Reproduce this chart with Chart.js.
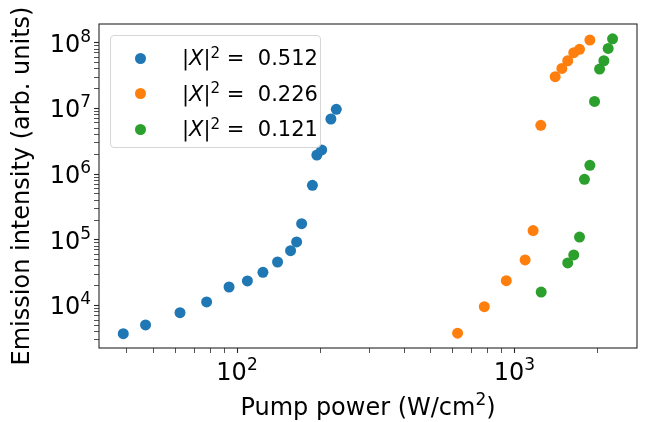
<!DOCTYPE html>
<html>
<head>
<meta charset="utf-8">
<script src="https://cdn.jsdelivr.net/npm/chart.js@4"></script>
<style>
  html, body { margin: 0; padding: 0; background: #fff; }
  #wrap { position: relative; width: 646px; height: 422px; }
  #legend {
    position: absolute; left: 110px; top: 35px; width: 211px; height: 113px;
    box-sizing: border-box; border: 1px solid #d6d6d6; border-radius: 4px;
    background: rgba(255,255,255,0.8);
    font-family: "DejaVu Sans"; font-size: 21px; color: #000;
  }
  .row { position: absolute; left: 0; height: 30px; line-height: 30px; white-space: nowrap; }
  .dot { position: absolute; left: 24px; top: 9.5px; width: 11px; height: 11px; border-radius: 50%; }
  .txt { position: absolute; left: 71px; top: 0; }
  .txt sup { font-size: 72%; vertical-align: 0; position: relative; top: -0.48em; }
</style>
</head>
<body>
<div id="wrap">
  <canvas id="chart" width="646" height="422"></canvas>
  <div id="legend"></div>
</div>
<script>
const seriesNames = ["0.512", "0.226", "0.121"];
const seriesColors = ["#1f77b4", "#ff7f0e", "#2ca02c"];

const powerBlue = [38.9, 46.8, 62.3, 77.7, 93.6, 109, 124, 140, 156, 164, 171, 187, 194, 202, 218, 228];
const intensityBlue = [3720, 5050, 7770, 11300, 19100, 23600, 32000, 45900, 68300, 92600, 176000, 676000, 1.95e6, 2.33e6, 6.9e6, 9.7e6];

const powerOrange = [624, 779, 935, 1093, 1168, 1245, 1403, 1483, 1557, 1637, 1717, 1871];
const intensityOrange = [3780, 9590, 23800, 49300, 138000, 5.53e6, 3.04e7, 4.07e7, 5.32e7, 7.05e7, 7.94e7, 1.1e8];

const powerGreen = [1249, 1557, 1637, 1717, 1789, 1871, 1945, 2028, 2102, 2178, 2259];
const intensityGreen = [16000, 44400, 58700, 110000, 834000, 1.36e6, 1.28e7, 3.98e7, 5.32e7, 8.2e7, 1.15e8];

const xMajor = [100, 1000];
const xExp = ["2", "3"];
const yMajor = [1e4, 1e5, 1e6, 1e7, 1e8];
const yExp = ["4", "5", "6", "7", "8"];
const minorSteps = [2, 3, 4, 5, 6, 7, 8, 9];

const FONT = "DejaVu Sans";
const SIZE = 24;

function logTicks(min, max) {
  const out = [];
  for (let d = Math.floor(Math.log10(min)); d <= Math.ceil(Math.log10(max)); d++) {
    const base = Math.pow(10, d);
    [1, ...minorSteps].forEach((m) => {
      const v = m * base;
      if (v >= min && v <= max) out.push({ value: v, major: m === 1 });
    });
  }
  return out;
}

function pts(xs, ys) {
  return xs.map((x, i) => ({ x, y: ys[i] }));
}

// text with a raised exponent, like matplotlib mathtext
function drawSup(ctx, parts, x, y, align) {
  const big = SIZE + "px '" + FONT + "'";
  const small = Math.round(SIZE * 0.7) + "px '" + FONT + "'";
  let w = 0;
  parts.forEach((p) => { ctx.font = p.sup ? small : big; w += ctx.measureText(p.t).width; });
  let cx = align === "right" ? x - w : align === "center" ? x - w / 2 : x;
  ctx.textBaseline = "alphabetic";
  ctx.textAlign = "left";
  ctx.fillStyle = "#000";
  parts.forEach((p) => {
    ctx.font = p.sup ? small : big;
    ctx.fillText(p.t, cx, p.sup ? y - SIZE * 0.42 : y);
    cx += ctx.measureText(p.t).width;
  });
}

const labels = {
  id: "labels",
  afterDraw(chart) {
    const { ctx, chartArea: a } = chart;
    const sx = chart.scales.x, sy = chart.scales.y;
    ctx.save();
    ctx.strokeStyle = "#262626";
    ctx.lineWidth = 1.1;
    ctx.strokeRect(a.left, a.top, a.right - a.left, a.bottom - a.top);
    xMajor.forEach((v, i) => {
      drawSup(ctx, [{ t: "10" }, { t: xExp[i], sup: true }], sx.getPixelForValue(v), a.bottom + 32, "center");
    });
    yMajor.forEach((v, i) => {
      drawSup(ctx, [{ t: "10" }, { t: yExp[i], sup: true }], a.left - 8, sy.getPixelForValue(v) + 9, "right");
    });
    drawSup(ctx, [{ t: "Pump power (W/cm" }, { t: "2", sup: true }, { t: ")" }],
      (a.left + a.right) / 2, a.bottom + 67, "center");
    ctx.restore();
  },
};

const tickGrid = {
  drawOnChartArea: false,
  drawTicks: true,
  tickLength: 5,
  tickColor: "#262626",
  tickWidth: (c) => (c.tick && c.tick.major ? 1.1 : 0.8),
};

new Chart(document.getElementById("chart"), {
  type: "scatter",
  data: {
    datasets: [
      { data: pts(powerBlue, intensityBlue), backgroundColor: seriesColors[0] },
      { data: pts(powerOrange, intensityOrange), backgroundColor: seriesColors[1] },
      { data: pts(powerGreen, intensityGreen), backgroundColor: seriesColors[2] },
    ],
  },
  options: {
    responsive: false,
    animation: false,
    layout: { padding: { top: 24, right: 9, left: 0, bottom: 0 } },
    elements: { point: { radius: 5.5, borderWidth: 0, hoverRadius: 5.5 } },
    plugins: { legend: { display: false }, tooltip: { enabled: false } },
    scales: {
      x: {
        type: "logarithmic",
        min: 31.8,
        max: 2767,
        afterBuildTicks: (s) => { s.ticks = logTicks(s.min, s.max); },
        afterFit: (s) => { s.height = 74; },
        grid: tickGrid,
        border: { display: false },
        ticks: { autoSkip: false, maxRotation: 0, callback: () => "" },
      },
      y: {
        type: "logarithmic",
        min: 2250,
        max: 1.93e8,
        afterBuildTicks: (s) => { s.ticks = logTicks(s.min, s.max); },
        afterFit: (s) => { s.width = 99; },
        grid: tickGrid,
        border: { display: false },
        ticks: { autoSkip: false, callback: () => "" },
        title: {
          display: true, text: "Emission intensity (arb. units)", color: "#000",
          font: { family: FONT, size: SIZE }, padding: { top: 8, bottom: 0 },
        },
      },
    },
  },
  plugins: [labels],
});

const legend = document.getElementById("legend");
seriesNames.forEach((name, i) => {
  const row = document.createElement("div");
  row.className = "row";
  row.style.top = (7 + i * 35.5) + "px";
  row.innerHTML = `<span class="dot" style="background:${seriesColors[i]}"></span>` +
    `<span class="txt">|<i>X</i>|<sup>2</sup> =&nbsp; ${name}</span>`;
  legend.appendChild(row);
});
</script>
</body>
</html>
